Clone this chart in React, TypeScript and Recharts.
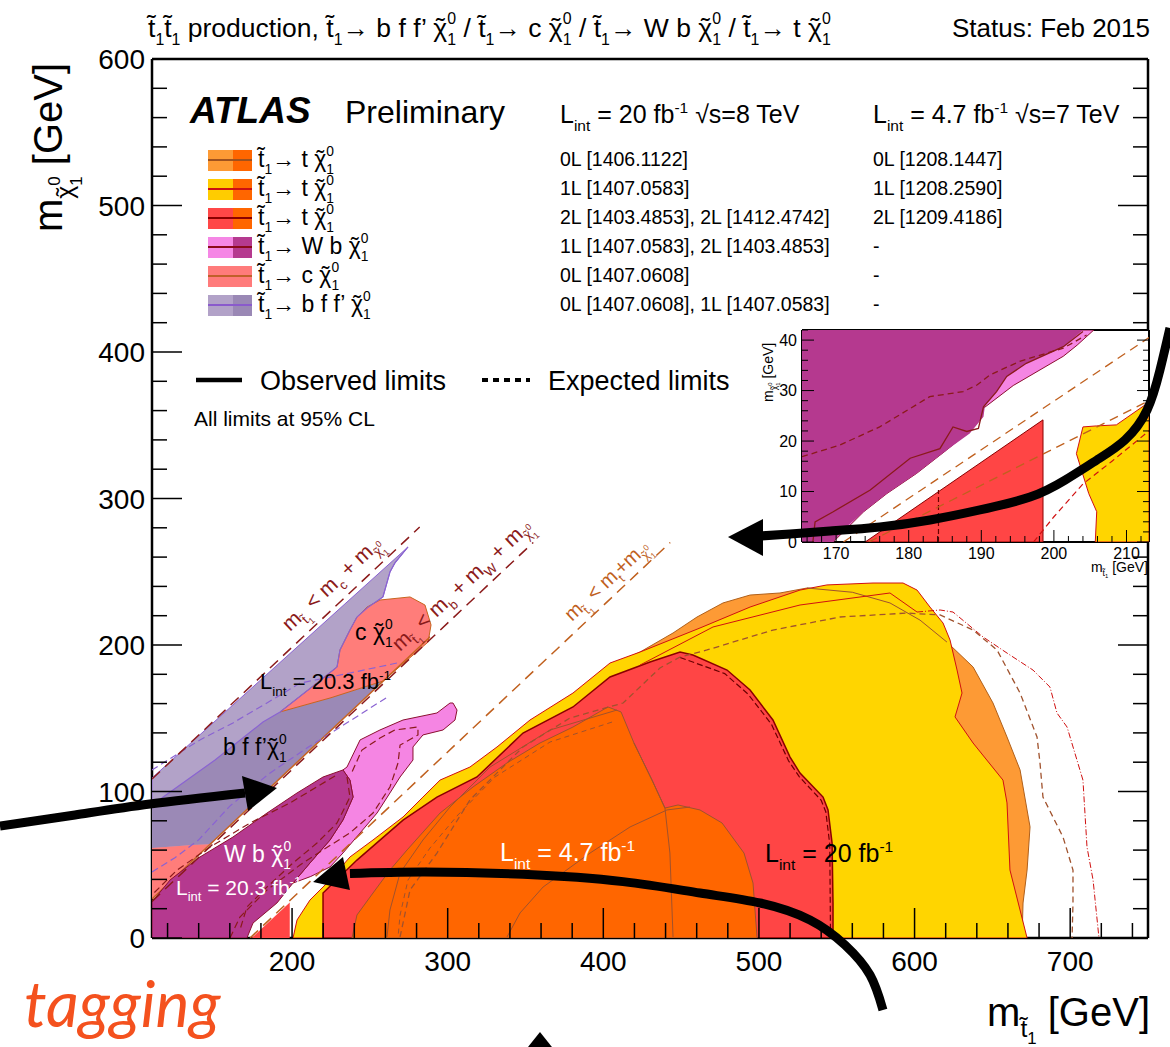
import React from 'react';
import { ScatterChart, Scatter, XAxis, YAxis, ReferenceArea } from 'recharts';

document.body.style.margin = '0';

const FONT = '"Liberation Sans", Arial, Helvetica, sans-serif';

// ---- ticks (GeV)
const xTicks = [120, 140, 160, 180, 200, 220, 240, 260, 280, 300, 320, 340, 360, 380, 400, 420, 440, 460, 480, 500, 520, 540, 560, 580, 600, 620, 640, 660, 680, 700, 720, 740];
const yTicks = [0, 20, 40, 60, 80, 100, 120, 140, 160, 180, 200, 220, 240, 260, 280, 300, 320, 340, 360, 380, 400, 420, 440, 460, 480, 500, 520, 540, 560, 580, 600];
const insetXTicks = [166, 168, 170, 172, 174, 176, 178, 180, 182, 184, 186, 188, 190, 192, 194, 196, 198, 200, 202, 204, 206, 208, 210, 212];
const insetYTicks = [0, 2, 4, 6, 8, 10, 12, 14, 16, 18, 20, 22, 24, 26, 28, 30, 32, 34, 36, 38, 40, 42];

// ---- main plot contours [m_stop, m_LSP] in GeV
const bffLight = [[110, 109.2], [274.5, 266.9], [266.1, 256], [262.9, 249.8], [258.4, 232.8], [248.2, 225.3], [288.6, 205.5], [110, 26.6]];
const bffDark = [[110, 90.8], [150.5, 121.5], [181.3, 147.4], [192.3, 154.3], [225, 164], [258.4, 175.4], [147, 64], [136, 63.5], [110, 61.4]];
const charmBlob = [[241.7, 219.1], [248.2, 225.9], [256.5, 230.7], [275.8, 232.8], [285.4, 227.3], [289.3, 213.7], [287.4, 202], [258.4, 175.4], [225, 164], [192.3, 154.3], [216, 174], [228.9, 185], [230.8, 196.6], [237.2, 210.2]];
const charmLow = [[110, 61.4], [136, 63.5], [147, 64], [110, 26.8]];
const charmEdge = [[110, 26.6], [288.6, 205.5]];
const bffObs = [[274.5, 266.9], [266.1, 256], [262.9, 249.8], [258.4, 232.8], [248.2, 225.3], [241.7, 219.1], [237.2, 210.2], [230.8, 196.6], [228.9, 185], [216, 174], [192.3, 154.3], [181.3, 147.4], [150.5, 121.5], [110, 90.8]];
const bffExpA = [[267.4, 187.7], [237.2, 180.9], [205.1, 174], [190.3, 164.5], [162, 146.8], [140.8, 135.2], [110, 114.7]];
const bffExpB = [[110, 45], [125, 55], [140, 67], [160, 90], [185, 112], [210, 130], [240, 150], [262, 165]];

const wbPink = [[200.6, 37.5], [212, 42], [224.4, 48.5], [232.7, 58], [243.7, 71.7], [254.6, 85.3], [262.9, 99], [269.4, 109.9], [277.7, 121.5], [277.7, 130.4], [284.1, 138.6], [297, 142], [304.7, 148.8], [306, 155.6], [303.4, 160.4], [301.5, 160.4], [293.1, 153.6], [271.3, 148.8], [256.5, 142], [243.7, 135.2], [235.3, 116.7], [232.7, 114.7], [237.2, 107.8], [239.2, 96.2], [232.7, 80.5], [224.4, 66.9], [211.5, 51.2]];
const wbDark = [[232.7, 114.7], [237.2, 107.8], [239.2, 96.2], [232.7, 80.5], [224.4, 66.9], [211.5, 51.2], [200.6, 37.5], [190.3, 23.9], [174.9, 10.2], [171, 0], [110, 0], [110, 24.6], [121.6, 39.6], [140.8, 55.3], [162, 68.9], [183.9, 85.3], [203.2, 99], [219.9, 109.9]];
const wbPinkExp = [[160.1, 0], [166.5, 14.3], [183.9, 32.8], [205.1, 49.8], [219.9, 60.1], [237.2, 71.7], [252, 85.3], [262.9, 103.1], [268.1, 119.5], [269.4, 131.7], [280.9, 138.6], [280.9, 144], [266.1, 142], [256.5, 136.5], [244.9, 128.3], [238.5, 113.3]];
const wbDarkExpA = [[235.3, 109.9], [237.2, 96.2], [228.9, 78.5], [216, 64.8], [200.6, 51.2], [183.9, 34.8], [171, 21.2], [166.5, 5.5]];
const wbDarkExpB = [[227.6, 110.6], [198.7, 92.2], [173, 78.5], [147.3, 62.1], [126.1, 46.4], [115.1, 34.8], [110, 29.4]];

const top0L = [[205, 0], [212, 20], [225, 38], [240, 54], [255, 66], [272, 81], [296, 104], [316, 115], [332, 128], [353, 146], [380, 165], [404, 185], [423.6, 195.2], [444.8, 208.2], [460.2, 219.1], [476.9, 228.7], [494.3, 234.1], [513.5, 235.5], [530.9, 238.9], [560, 236], [584.2, 228.7], [603.5, 217], [620.8, 202], [637.6, 185], [650.4, 160.4], [659.4, 137.2], [667.8, 114.7], [674.2, 75.8], [672.3, 46.4], [669.7, 23.9], [669.1, 0]];
const top1L = [[200.6, 0], [203.2, 12.3], [211.5, 25.9], [224.4, 39.6], [237.2, 55.3], [252, 66.9], [271.3, 82.6], [284.1, 96.2], [295.1, 107.8], [314.3, 116.7], [331.7, 130.4], [352.9, 148.8], [380.5, 167.2], [404.3, 187.7], [423.6, 195.2], [462.1, 211.6], [494.3, 225.9], [526.4, 237.5], [543.7, 241], [573.3, 242.3], [592.6, 242.3], [601.6, 237.5], [609.9, 225.9], [618.3, 215], [622.8, 203.4], [627.3, 182.9], [630.5, 167.2], [626, 150.9], [637.6, 133.1], [656.8, 107.8], [659.4, 92.2], [661.3, 46.4], [672.3, 0]];
const top2L = [[219.9, 0], [219.9, 30.7], [241.7, 53.2], [271.3, 80.5], [293.1, 96.2], [318.8, 109.9], [348.4, 139.9], [380.5, 157.7], [404.3, 178.2], [430, 188.4], [449.3, 195.2], [457.6, 193.2], [479.5, 182.9], [494.3, 169.3], [509, 148.8], [520, 123.5], [526.4, 112.6], [541.2, 96.2], [544.4, 87.4], [547, 64.8], [547.6, 23.9], [547.6, 0]];
const top2LWedge = [[174, 0], [198.5, 24.2], [198.5, 0]];
const top7TeV = [[238.5, 0], [241.7, 15.7], [252, 30.7], [262.9, 46.4], [273.9, 60.1], [295.1, 85.3], [316.3, 103.1], [338.1, 119.5], [359.3, 133.1], [380.5, 144], [403, 157.7], [411.4, 154.3], [419.7, 133.1], [431.3, 107.8], [439.6, 88.7], [448, 90.8], [462.1, 87.4], [476.3, 78.5], [490.4, 58], [496.2, 37.5], [498.8, 0]];
const obs7A = [[455.7, 89.4], [440.9, 87.4], [417.2, 75.8], [391.5, 58], [361.3, 34.8], [346.5, 17.1], [338.1, 0.7]];
const obs7B = [[419.7, 133.1], [431.3, 107.8], [439.6, 88.7], [442.8, 58], [444.8, 0.7]];
const obs7C = [[408.8, 155.6], [365.8, 142], [327.2, 116.7], [301.5, 89.4], [284.1, 66.9], [269.4, 44.4], [262.9, 19.1], [261, 0.7]];
const exp7C = [[405.6, 147.4], [365.8, 133.8], [330.4, 109.9], [306.6, 84], [288.6, 61.4], [274.5, 39.6], [269.4, 15.7], [268.1, 0.7]];
const obs0LHidden = [[530.9, 238.9], [560, 236], [584.2, 228.7], [603.5, 217], [620.8, 202]];
const obs1LInner = [[423.6, 186.3], [470.5, 212.3], [526.4, 227.3], [584.2, 235.5], [601.6, 222.5]];
const exp1L = [[601.6, 222.5], [616.4, 223.9], [624.7, 222.5], [644, 205.5], [659.4, 194.5], [676.1, 182.9], [687, 171.3], [691.5, 153.6], [698, 144], [708.2, 107.8], [710.8, 62.1], [714.7, 39.6], [718.5, 0]];
const exp2L = [[449.3, 191.5], [478, 180.5], [493, 166.5], [508, 146], [519, 121], [526, 110], [540, 94], [543, 86], [545.5, 64], [546, 0]];
const exp0L = [[269.4, 0.7], [275.8, 32.8], [293.1, 58], [314.3, 94.2], [348.4, 130.4], [378.6, 150.2], [412.7, 160.4], [436.4, 184.3], [449.3, 191.8], [466.6, 196.6], [509, 210.2], [552.1, 219.1], [595.2, 221.8], [616.4, 220.5], [637.6, 210.2], [653, 196.6], [667.8, 167.2], [678.7, 137.2], [680.6, 119.5], [682.5, 96.2], [695.4, 68.9], [701.8, 46.4], [701.8, 23.9], [701.2, 0]];

// kinematic limits
const kinCharm = [[110, 108.5], [282, 280.5]];
const kinW = [[110, 25], [355, 270]];
const kinTop = [[173, 0], [443, 270]];

// ---- inset (zoom on the top corridor)
const inPink = [[165.3, 42], [205.5, 42], [203.2, 39], [201.3, 36.8], [194.4, 31], [190.3, 26.5], [188, 21.5], [185.2, 18.2], [181.1, 13.6], [177, 9.6], [173.8, 6], [169.6, 0], [165.3, 0]];
const inPurple = [[165.3, 42], [204, 42], [201.3, 38.7], [196.2, 35.4], [193.5, 32.8], [192.1, 29.8], [190.5, 27], [190.3, 24.8], [188.4, 21.5], [185.2, 18.2], [181.1, 13.6], [177, 9.6], [173.8, 6], [171, 2.5], [169.6, 0], [165.3, 0]];
const inObs = [[166.8, 0], [167.1, 4], [169.6, 6], [174.7, 10.3], [180.2, 16.6], [184.3, 18.5], [186.1, 22.8], [188, 21.9], [189.6, 22.5], [190.3, 26.8], [192.1, 29.8], [193.5, 32.8], [196.2, 35.4], [201.3, 38.7], [204, 41.7]];
const inExp = [[165.3, 16.9], [170.5, 19.2], [176, 22.8], [182.9, 28.8], [187.5, 29.8], [189.4, 31.1], [191.2, 33.1], [195.3, 35.8], [201.3, 38.4], [204.5, 41]];
const inKinA = [[171, 0], [213.1, 40.5]];
const inKinB = [[174.5, 0], [213.1, 28]];
const inRed = [[174, 0], [198.5, 24.2], [198.5, 0]];
const inRedExp = [[184.1, 0], [184.1, 10.3]];
const inYellow = [[205.7, 0], [205.9, 6], [204.8, 9.6], [203.1, 17.5], [204, 22.8], [205.9, 23], [208.6, 23.2], [213.1, 27.7], [213.1, 0]];
const inYellowExp = [[197.2, 0], [200, 5], [204, 11.5], [208, 16], [213.1, 22]];

// ---- slide annotations (same GeV units, page-wide axes)
const arrowRight = [[764.1, 416.4], [757.7, 387.7], [749.4, 360.4], [735.2, 339.9], [717.2, 326.3], [696.7, 312.6], [674.2, 301], [642, 292.2], [609.9, 285.3], [577.8, 280.5], [545.7, 277.8], [520, 275.8], [500.7, 274.4]];
const headRight = [[480.1, 273.7], [502.6, 286], [502.6, 260.8]];
const arrowLeft = [[12.3, 76.5], [60.5, 84], [108.7, 91.5], [169.8, 99]];
const headLeft = [[190.3, 102.4], [167.8, 110.6], [171.7, 86.7]];
const arrowLow = [[579.7, -49.1], [571.4, -25.3], [555.3, -4.8], [532.8, 12.3], [500.7, 23.9], [462.1, 30.7], [412.7, 38.5], [348.4, 43.5], [284.1, 45], [237.2, 44]];
const headLow = [[213.5, 38.2], [232.7, 55.3], [237.2, 32.8]];
const headBottom = [[351.6, -74.4], [359.3, -64.1], [367, -74.4]];

const toXY = (a: number[][]) => a.map(([x, y]) => ({ x, y }));
const noDot = () => <g />;

function region(id: string, pts: number[][], fill: string, stroke = 'none', sw = 1) {
  return (
    <Scatter key={id} data={toXY([...pts, pts[0]])} shape={noDot} isAnimationActive={false}
      line={{ fill, stroke, strokeWidth: sw }} legendType="none" />
  );
}
function curve(id: string, pts: number[][], stroke: string, sw = 1, dash?: string, joint: any = 'linear') {
  return (
    <Scatter key={id} data={toXY(pts)} shape={noDot} isAnimationActive={false} lineJointType={joint}
      line={{ fill: 'none', stroke, strokeWidth: sw, strokeDasharray: dash }} legendType="none" />
  );
}

type Side = 'bottom' | 'top' | 'left' | 'right';
function frameTick(side: Side, big: number, small: number, step: number, font = 0, gap = 0, sw = 1.5) {
  return (p: any) => {
    const { x, y, payload } = p;
    const v = payload.value;
    const major = Math.abs(v / step - Math.round(v / step)) < 1e-6;
    const len = major ? big : small;
    const dx = side === 'left' ? len : side === 'right' ? -len : 0;
    const dy = side === 'bottom' ? -len : side === 'top' ? len : 0;
    return (
      <g>
        <line x1={x} y1={y} x2={x + dx} y2={y + dy} stroke="#000" strokeWidth={sw} />
        {font > 0 && major && side === 'bottom' && (
          <text x={x} y={y + gap} textAnchor="middle" fontSize={font} fontFamily={FONT} fill="#000">{v}</text>
        )}
        {font > 0 && major && side === 'left' && (
          <text x={x - gap} y={y + font * 0.36} textAnchor="end" fontSize={font} fontFamily={FONT} fill="#000">{v}</text>
        )}
      </g>
    );
  };
}

// ---- rich text: sub/superscripts; the tilde over chi is a separate small glyph
type Seg = string | { t: string; s?: number; k?: number; back?: boolean; tilde?: number };
const EM: Record<string, number> = { t: 0.278, '\u03c7': 0.52, m: 0.833, c: 0.5, b: 0.556, W: 0.944, i: 0.222, n: 0.556 };
const textW = (s: string) => s.split('').reduce((a, ch) => a + (EM[ch] ?? 0.556), 0);

function Rich(props: { x: number; y: number; size: number; segs: Seg[]; fill?: string; anchor?: string; rotate?: number }) {
  const { x, y, size, segs, fill = '#000', anchor = 'start', rotate = 0 } = props;
  let off = 0;
  let prevW = 0;
  let pend = 0;
  const kids: React.ReactNode[] = [];
  segs.forEach((g0, i) => {
    const g = typeof g0 === 'string' ? { t: g0 } : g0;
    const fs = size * (g.k ?? 1);
    const target = (g.s ?? 0) * size;
    const dx = pend + (g.back ? -prevW : 0);
    const dy = target - off;
    off = target;
    pend = 0;
    kids.push(<tspan key={i} dx={dx || undefined} dy={dy || undefined} fontSize={fs}>{g.t}</tspan>);
    const bw = textW(g.t) * fs;
    prevW = bw;
    if (g.tilde !== undefined) {
      const tw = 0.333 * fs;
      const raise = g.tilde * fs;
      kids.push(<tspan key={i + 't'} dx={-(bw + tw) / 2} dy={-raise || undefined} fontSize={fs}>{'\u02dc'}</tspan>);
      off -= raise;
      pend = (bw - tw) / 2;
    }
  });
  return (
    <text x={x} y={y} fill={fill} textAnchor={anchor as any} fontFamily={FONT} fontSize={size}
      transform={rotate ? `rotate(${rotate} ${x} ${y})` : undefined}>
      {kids}
    </text>
  );
}

const T1: Seg[] = ['t\u0303', { t: '1', s: 0.3, k: 0.6 }];
const CHI: Seg[] = [{ t: '\u03c7', tilde: 0.02 }, { t: '1', s: 0.3, k: 0.6 }, { t: '0', s: -0.48, k: 0.6, back: true }];
const mSub = (q: string): Seg[] => ['m', { t: q, s: 0.3, k: 0.62 }];
const mStop: Seg[] = ['m', { t: 't\u0303', s: 0.28, k: 0.62 }, { t: '1', s: 0.45, k: 0.42 }];
const mChi: Seg[] = ['m', { t: '\u03c7', s: 0.28, k: 0.62, tilde: 0.02 }, { t: '1', s: 0.5, k: 0.42 }, { t: '0', s: -0.05, k: 0.42, back: true }];
const LINT = (v: string): Seg[] => ['L', { t: 'int', s: 0.3, k: 0.62 }, ` = ${v} fb`, { t: '-1', s: -0.42, k: 0.62 }];

const title: Seg[] = [...T1, ...T1, ' production, ', ...T1, '\u2192 b f f\u2019 ', ...CHI, ' / ', ...T1, '\u2192 c ', ...CHI, ' / ', ...T1, '\u2192 W b ', ...CHI, ' / ', ...T1, '\u2192 t ', ...CHI];

const legendRows = [
  { a: '#fd9a35', b: '#ff6600', line: '#a0521e', label: [...T1, '\u2192 t ', ...CHI] },
  { a: '#ffcc00', b: '#ff6600', line: '#cc1010', label: [...T1, '\u2192 t ', ...CHI] },
  { a: '#ff4747', b: '#ff6600', line: '#8b0000', label: [...T1, '\u2192 t ', ...CHI] },
  { a: '#f587e5', b: '#b53a8f', line: '#8b0a1a', label: [...T1, '\u2192 W b ', ...CHI] },
  { a: '#ff7b7b', b: '#ff7b7b', line: '#c0602a', label: [...T1, '\u2192 c ', ...CHI] },
  { a: '#b2a2c8', b: '#9a88b5', line: '#8a5acc', label: [...T1, '\u2192 b f f\u2019 ', ...CHI] },
];
const legendY = [160, 189, 218, 247, 276, 305];
const refs8TeV = ['0L [1406.1122]', '1L [1407.0583]', '2L [1403.4853], 2L [1412.4742]', '1L [1407.0583], 2L [1403.4853]', '0L [1407.0608]', '0L [1407.0608], 1L [1407.0583]'];
const refs7TeV = ['0L [1208.1447]', '1L [1208.2590]', '2L [1209.4186]', '-', '-', '-'];

const frame = { stroke: '#000', strokeWidth: 2.5 };
const inFrame = { stroke: '#000', strokeWidth: 2 };

const Texts = () => (
  <svg width={1170} height={1047} style={{ position: 'absolute', left: 0, top: 0, pointerEvents: 'none' }}>
    <Rich x={148} y={37} size={26.5} segs={title} />
    <text x={1150} y={37} textAnchor="end" fontSize={26} fontFamily={FONT}>Status: Feb 2015</text>
    <Rich x={62} y={232} size={40} rotate={-90} segs={[...mChi, ' [GeV]']} />
    <Rich x={1150} y={1026} size={40} anchor="end" segs={[...mStop, ' [GeV]']} />

    <text x={190} y={123} fontSize={37} fontWeight="bold" fontStyle="italic" fontFamily={FONT}>ATLAS</text>
    <text x={345} y={123} fontSize={32} fontFamily={FONT}>Preliminary</text>
    {legendRows.map((r, i) => (
      <g key={i}>
        <rect x={208} y={legendY[i] - 10} width={25} height={21} fill={r.a} />
        <rect x={233} y={legendY[i] - 10} width={19} height={21} fill={r.b} />
        <line x1={208} x2={252} y1={legendY[i]} y2={legendY[i]} stroke={r.line} strokeWidth={2} />
        <Rich x={258} y={legendY[i] + 7} size={23} segs={r.label} />
      </g>
    ))}
    <Rich x={560} y={123} size={25} segs={[...LINT('20'), ' \u221As=8 TeV']} />
    <Rich x={873} y={123} size={25} segs={[...LINT('4.7'), ' \u221As=7 TeV']} />
    {refs8TeV.map((t, i) => <text key={'a' + i} x={560} y={legendY[i] + 6} fontSize={19.5} fontFamily={FONT}>{t}</text>)}
    {refs7TeV.map((t, i) => <text key={'b' + i} x={873} y={legendY[i] + 6} fontSize={19.5} fontFamily={FONT}>{t}</text>)}
    <line x1={196} x2={242} y1={380} y2={380} stroke="#000" strokeWidth={4.5} />
    <text x={260} y={390} fontSize={27} fontFamily={FONT}>Observed limits</text>
    <line x1={482} x2={530} y1={380} y2={380} stroke="#000" strokeWidth={4} strokeDasharray="6 5" />
    <text x={548} y={390} fontSize={27} fontFamily={FONT}>Expected limits</text>
    <text x={194} y={426} fontSize={21} fontFamily={FONT}>All limits at 95% CL</text>

    <Rich x={290} y={632} size={21} rotate={-43} fill="#8b1a1a" segs={[...mStop, ' < ', ...mSub('c'), ' + ', ...mChi]} />
    <Rich x={400} y={652} size={21} rotate={-43} fill="#8b1a1a" segs={[...mStop, ' < ', ...mSub('b'), ' + ', ...mSub('W'), ' + ', ...mChi]} />
    <Rich x={572} y={622} size={20} rotate={-43} fill="#c0601e" segs={[...mStop, ' < ', ...mSub('t'), '+', ...mChi]} />
    <Rich x={355} y={640} size={23} segs={['c ', ...CHI]} />
    <Rich x={260} y={689} size={22} segs={LINT('20.3')} />
    <Rich x={223} y={755} size={23} segs={['b f f\u2019', ...CHI]} />
    <Rich x={224} y={862} size={23} fill="#fff" segs={['W b ', ...CHI]} />
    <Rich x={176} y={895} size={21} fill="#fff" segs={LINT('20.3')} />
    <Rich x={500} y={861} size={25} fill="#fff" segs={LINT('4.7')} />
    <Rich x={765} y={862} size={25} segs={LINT('20')} />

    <Rich x={773} y={402} size={14} rotate={-90} segs={[...mChi, ' [GeV]']} />
    <Rich x={1148} y={572} size={14} anchor="end" segs={[...mStop, ' [GeV]']} />
  </svg>
);

export default function App() {
  return (
    <div style={{ position: 'relative', width: 1170, height: 1047, background: '#fff', fontFamily: FONT, overflow: 'hidden' }}>
      <div style={{ position: 'absolute', left: 0, top: 0 }}>
        <ScatterChart width={1170} height={1047} margin={{ top: 58, right: 21, bottom: 69, left: 82 }}>
          <XAxis type="number" dataKey="x" domain={[110, 750]} allowDataOverflow ticks={xTicks} interval={0}
            height={40} tickSize={0} tickMargin={0} tickLine={false} axisLine={frame} tick={frameTick('bottom', 30, 15, 100, 28, 33)} />
          <XAxis xAxisId="top" orientation="top" type="number" domain={[110, 750]} allowDataOverflow ticks={xTicks} interval={0}
            height={1} tickSize={0} tickMargin={0} tickLine={false} axisLine={frame} tick={frameTick('top', 30, 15, 100)} />
          <YAxis type="number" dataKey="y" domain={[0, 600]} allowDataOverflow ticks={yTicks} interval={0}
            width={70} tickSize={0} tickMargin={0} tickLine={false} axisLine={frame} tick={frameTick('left', 30, 15, 100, 28, 7)} />
          <YAxis yAxisId="right" orientation="right" type="number" domain={[0, 600]} allowDataOverflow ticks={yTicks} interval={0}
            width={1} tickSize={0} tickMargin={0} tickLine={false} axisLine={frame} tick={frameTick('right', 30, 15, 100)} />

          {region('bffLight', bffLight, '#b2a2c8', '#8a63d2')}
          {region('bffDark', bffDark, '#9b89b6')}
          {region('charmLow', charmLow, '#ff7d7a')}
          {region('charmBlob', charmBlob, '#ff7d7a', '#c8641e')}
          {curve('charmEdge', charmEdge, '#c8641e', 1.5)}
          {curve('bffObs', bffObs, '#8a63d2', 1.2)}
          {curve('bffExpA', bffExpA, '#8a63d2', 1.2, '7 4')}
          {curve('bffExpB', bffExpB, '#8a63d2', 1.2, '7 4')}

          {region('wbPink', wbPink, '#f585e3', '#8b1030')}
          {region('wbDark', wbDark, '#b5398f', '#8b1030')}
          {curve('wbPinkExp', wbPinkExp, '#8b1a1a', 1.2, '7 4')}
          {curve('wbDarkExpA', wbDarkExpA, '#8b1a1a', 1.2, '7 4')}
          {curve('wbDarkExpB', wbDarkExpB, '#8b1a1a', 1.2, '7 4')}

          {region('top0L', top0L, '#fd9a35', '#b0601a')}
          {region('top1L', top1L, '#ffd500', '#d01010')}
          {region('top2L', top2L, '#ff4545', '#8b0000', 1.5)}
          {region('top2LWedge', top2LWedge, '#ff4545')}
          {region('top7TeV', top7TeV, '#ff6600', '#a0522d')}
          {curve('obs7A', obs7A, '#a0522d', 1)}
          {curve('obs7B', obs7B, '#a0522d', 1)}
          {curve('obs7C', obs7C, '#a0522d', 1)}
          {curve('exp7C', exp7C, '#a0522d', 1, '5 4')}
          {curve('obs0LHidden', obs0LHidden, '#a0522d', 1)}
          {curve('obs1LInner', obs1LInner, '#d01010', 1)}
          {curve('exp1L', exp1L, '#d01010', 1, '6 2 1 2')}
          {curve('exp2L', exp2L, '#6b0000', 1.2, '6 3')}
          {curve('exp0L', exp0L, '#a0522d', 1.3, '6 4')}

          {curve('kinCharm', kinCharm, '#8b1a1a', 1.5, '11 7')}
          {curve('kinW', kinW, '#8b1a1a', 1.5, '11 7')}
          {curve('kinTop', kinTop, '#c0601e', 1.5, '11 7')}
        </ScatterChart>
      </div>

      <Texts />

      <div style={{ position: 'absolute', left: 740, top: 318 }}>
        <ScatterChart width={420} height={270} margin={{ top: 11, right: 10, bottom: 16, left: 32 }}>
          <XAxis type="number" dataKey="x" domain={[165.3, 213.1]} allowDataOverflow ticks={insetXTicks} interval={0}
            height={30} tickSize={0} tickMargin={0} tickLine={false} axisLine={inFrame} tick={frameTick('bottom', 12, 6, 10, 16, 17, 1)} />
          <XAxis xAxisId="top" orientation="top" type="number" domain={[165.3, 213.1]} allowDataOverflow ticks={insetXTicks} interval={0}
            height={1} tickSize={0} tickMargin={0} tickLine={false} axisLine={inFrame} tick={frameTick('top', 12, 6, 10, 0, 0, 1)} />
          <YAxis type="number" dataKey="y" domain={[0, 42]} allowDataOverflow ticks={insetYTicks} interval={0}
            width={30} tickSize={0} tickMargin={0} tickLine={false} axisLine={inFrame} tick={frameTick('left', 12, 6, 10, 16, 5, 1)} />
          <YAxis yAxisId="right" orientation="right" type="number" domain={[0, 42]} allowDataOverflow ticks={insetYTicks} interval={0}
            width={1} tickSize={0} tickMargin={0} tickLine={false} axisLine={inFrame} tick={frameTick('right', 12, 6, 10, 0, 0, 1)} />
          <ReferenceArea x1={165.3} x2={213.1} y1={0} y2={42} fill="#fff" fillOpacity={1} stroke="none" ifOverflow="hidden" />
          {region('inPink', inPink, '#f585e3', '#8b1030')}
          {region('inPurple', inPurple, '#b5398f')}
          {curve('inObs', inObs, '#8b1a1a', 1.3)}
          {curve('inExp', inExp, '#8b1a1a', 1.3, '6 4')}
          {region('inRed', inRed, '#ff4545', '#8b0000')}
          {curve('inRedExp', inRedExp, '#6b0000', 1.2, '5 3')}
          {region('inYellow', inYellow, '#ffd500', '#d01010')}
          {curve('inYellowExp', inYellowExp, '#d01010', 1.2, '6 4')}
          {curve('inKinA', inKinA, '#c0601e', 1.3, '9 6')}
          {curve('inKinB', inKinB, '#c0601e', 1.3, '9 6')}
        </ScatterChart>
      </div>

      <div style={{ position: 'absolute', left: 0, top: 0 }}>
        <ScatterChart width={1170} height={1047} margin={{ top: 0, right: 0, bottom: 0, left: 0 }}>
          <XAxis hide type="number" dataKey="x" domain={[12.33, 764.14]} allowDataOverflow />
          <YAxis hide type="number" dataKey="y" domain={[-74.4, 640.27]} allowDataOverflow />
          {curve('arrowRight', arrowRight, '#000', 9, undefined, 'natural')}
          {region('headRight', headRight, '#000')}
          {curve('arrowLeft', arrowLeft, '#000', 9, undefined, 'natural')}
          {region('headLeft', headLeft, '#000')}
          {curve('arrowLow', arrowLow, '#000', 9, undefined, 'natural')}
          {region('headLow', headLow, '#000')}
          {region('headBottom', headBottom, '#000')}
        </ScatterChart>
      </div>

      <div style={{ position: 'absolute', left: 24, top: 968, fontFamily: 'Lato, "Open Sans", sans-serif', fontStyle: 'italic', fontSize: 64, color: '#f4511e', lineHeight: '70px' }}>
        tagging
      </div>
    </div>
  );
}
